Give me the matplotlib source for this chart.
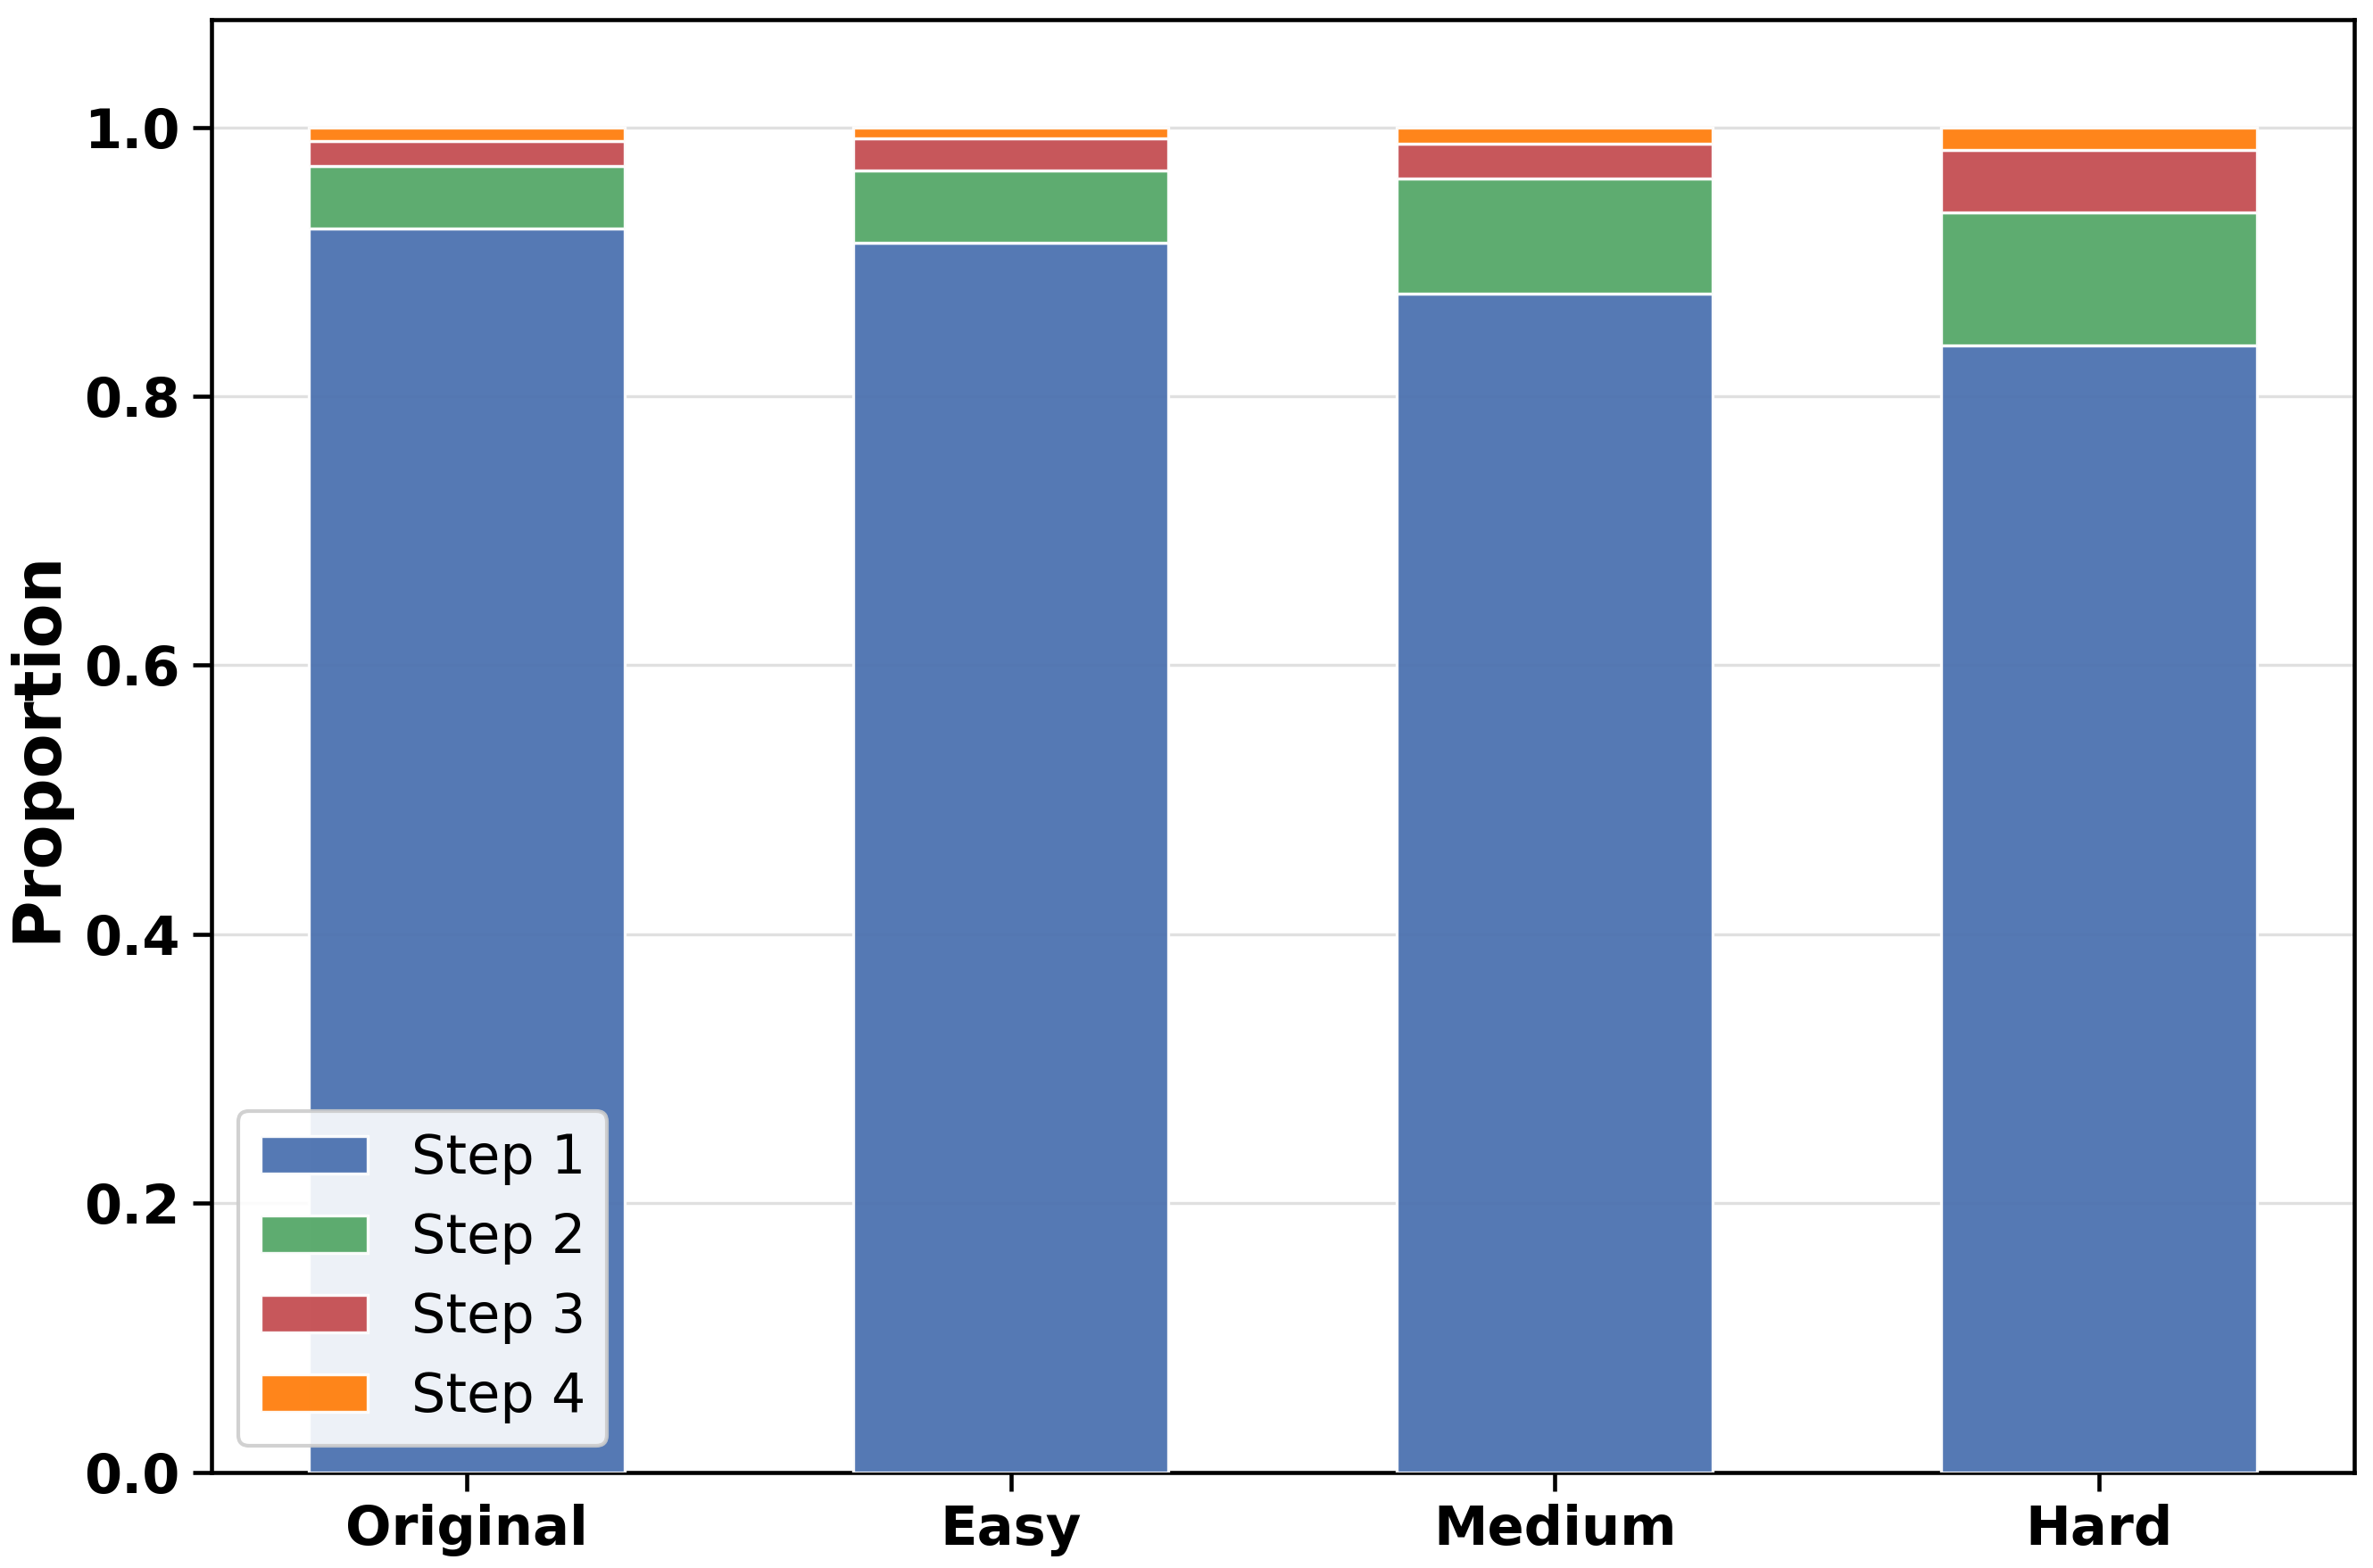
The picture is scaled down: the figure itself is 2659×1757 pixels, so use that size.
import matplotlib
matplotlib.use("Agg")
import matplotlib.pyplot as plt
import numpy as np

categories = ["Original", "Easy", "Medium", "Hard"]
step1 = [0.925, 0.914, 0.876, 0.838]
step2 = [0.046, 0.054, 0.086, 0.099]
step3 = [0.019, 0.024, 0.026, 0.046]
step4 = [0.010, 0.008, 0.012, 0.017]
series_labels = ["Step 1", "Step 2", "Step 3", "Step 4"]
colors = ["#4C72B0", "#55A868", "#C44E52", "#FF7F0E"]

fig = plt.figure(figsize=(2659 / 300, 1757 / 300), dpi=300)
ax = fig.add_axes([0.0892, 0.061, 0.9920 - 0.0892, 0.9875 - 0.061])

x = np.arange(len(categories))
bottom = np.zeros(len(categories))
for vals, lab, col in zip([step1, step2, step3, step4], series_labels, colors):
    ax.bar(x, vals, width=0.58, bottom=bottom, color=col, alpha=0.95,
           edgecolor="white", linewidth=0.8, label=lab, zorder=3)
    bottom += np.array(vals)

ax.set_ylim(0, 1.08)
ax.set_xticks(x)
ax.set_xticklabels(categories, fontsize=14.6, fontweight="bold")
ax.set_yticks([0.0, 0.2, 0.4, 0.6, 0.8, 1.0])
ax.set_yticklabels(["0.0", "0.2", "0.4", "0.6", "0.8", "1.0"], fontsize=14.6, fontweight="bold")
ax.set_ylabel("Proportion", fontsize=17.5, fontweight="bold")
ax.yaxis.grid(True, color="#e0e0e0", linewidth=0.8, zorder=0)
ax.set_axisbelow(True)
for s in ax.spines.values():
    s.set_linewidth(1.1)
    s.set_color("black")
ax.tick_params(axis="both", length=5, width=1.1)

ax.legend(loc="lower left", fontsize=14.5, framealpha=0.9, edgecolor="#cccccc",
          handletextpad=0.8)

fig.savefig("out.png", dpi=300)
